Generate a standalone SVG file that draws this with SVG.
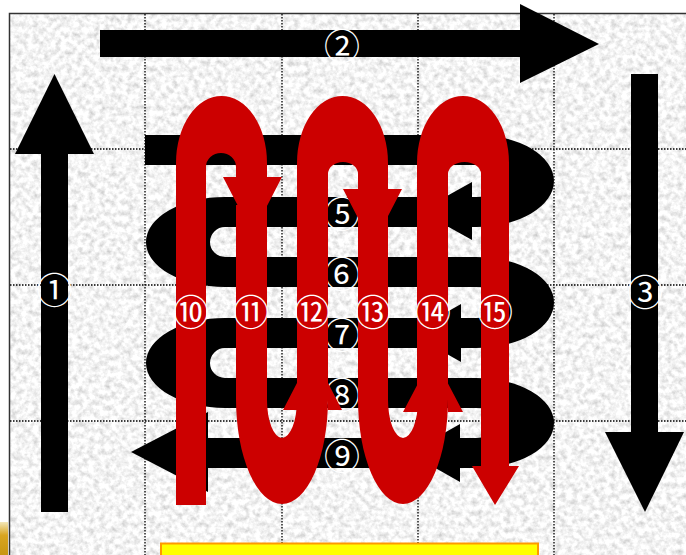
<svg xmlns="http://www.w3.org/2000/svg" width="686" height="555" viewBox="0 0 686 555">
<style>
.blk{fill:#000}
.red{fill:#cc0000}
.grid{stroke:#000;stroke-width:1.3;stroke-dasharray:1.5 1.5;fill:none}
.lbl{font-family:"Noto Sans CJK JP","Noto Sans CJK SC",sans-serif;font-size:36px;fill:#fff;text-anchor:middle;dominant-baseline:central}
</style>
<defs>
<filter id="tex" filterUnits="userSpaceOnUse" x="9" y="13" width="677" height="542">
<feTurbulence type="fractalNoise" baseFrequency="0.18" numOctaves="3" seed="7"/>
<feColorMatrix type="matrix" values="0.75 0 0 0 0.53  0.75 0 0 0 0.53  0.75 0 0 0 0.53  0 0 0 0 1"/>
</filter>
<linearGradient id="gold" x1="0" y1="0" x2="0" y2="1">
<stop offset="0" stop-color="#f3e7b8"/>
<stop offset="0.4" stop-color="#d9a520"/>
<stop offset="1" stop-color="#c89612"/>
</linearGradient>
</defs>
<rect x="0" y="0" width="686" height="555" fill="#fff"/>
<rect x="9" y="13" width="677" height="542" fill="#e6e6e6" filter="url(#tex)"/>
<rect x="0" y="522" width="8" height="33" fill="url(#gold)"/>
<path d="M9.5,555 V13.5 H686" fill="none" stroke="#333" stroke-width="1.5"/>
<g id="grid">
<path class="grid" d="M145,14 V555 M282,14 V555 M418,14 V555 M554,14 V555 M10,149 H686 M10,285 H686 M10,421 H686"/>
</g>
<g id="arrow1">
<rect class="blk" x="41" y="153" width="27" height="359"/>
<polygon class="blk" points="15,154 94,154 54.5,74"/>
<text class="lbl" x="54.5" y="288">①</text>
</g>
<g id="arrow2">
<rect class="blk" x="100" y="30" width="421" height="27"/>
<polygon class="blk" points="520,4 520,83 599,44"/>
<text class="lbl" x="342" y="44">②</text>
</g>
<g id="arrow3">
<rect class="blk" x="631" y="74" width="27" height="359"/>
<polygon class="blk" points="605,432 684,432 645,512"/>
<text class="lbl" x="645" y="290">③</text>
</g>
<g id="black-snake">
<rect class="blk" x="145" y="135" width="331" height="30"/>
<rect class="blk" x="225" y="197" width="251" height="30"/>
<rect class="blk" x="225" y="257" width="251" height="30"/>
<rect class="blk" x="225" y="318" width="251" height="30"/>
<rect class="blk" x="225" y="378" width="251" height="30"/>
<rect class="blk" x="208" y="438" width="268" height="30"/>
<path class="blk" d="M476,135 A78,46 0 0 1 476,227 V197 A30,16 0 0 0 476,165 Z"/>
<path class="blk" d="M476,257 A78,45.5 0 0 1 476,348 V318 A30,15.5 0 0 0 476,287 Z"/>
<path class="blk" d="M476,378 A78,45 0 0 1 476,468 V438 A30,15 0 0 0 476,408 Z"/>
<path class="blk" d="M225,197 A79,45 0 0 0 225,287 V257 A15,15 0 0 1 225,227 Z"/>
<path class="blk" d="M225,318 A79,45 0 0 0 225,408 V378 A15,15 0 0 1 225,348 Z"/>
<polygon class="blk" points="472,182 472,240 420,211"/>
<polygon class="blk" points="461,304 461,362 410,333"/>
<polygon class="blk" points="460,424 460,482 409,453"/>
<polygon class="blk" points="208,412 208,492 131,452"/>
<text class="lbl" x="343" y="150">④</text>
<text class="lbl" x="342" y="212">⑤</text>
<text class="lbl" x="342" y="272">⑥</text>
<text class="lbl" x="342" y="333">⑦</text>
<text class="lbl" x="342" y="393">⑧</text>
<text class="lbl" x="342" y="454">⑨</text>
</g>
<g id="red-snake">
<path class="red" d="M176,505 V163 A45.5,67 0 0 1 267,163 V177 H282 L252.5,234 L223,177 H236 V167 A15,14 0 0 0 206,167 V505 Z"/>
<path class="red" d="M236,205 V399 A46,105 0 0 0 328,399 V410 H342 L312.5,353 L283,410 H297 V400 A15,38 0 0 1 267,400 V205 Z"/>
<path class="red" d="M297,390 V163 A45.5,67 0 0 1 388,163 V189 H402 L372.5,246 L343,189 H358 V174 A15,12 0 0 0 328,174 V390 Z"/>
<path class="red" d="M358,215 V399 A45,105 0 0 0 448,399 V412 H463 L433,355 L403,412 H418 V400 A15,38 0 0 1 388,400 V215 Z"/>
<path class="red" d="M417,390 V163 A46,67 0 0 1 509,163 V466 H519 L495,505 L472,466 H481 V174 A16.5,12 0 0 0 448,174 V390 Z"/>
<text class="lbl" x="191" y="310">⑩</text>
<text class="lbl" x="251" y="310">⑪</text>
<text class="lbl" x="312" y="310">⑫</text>
<text class="lbl" x="373" y="310">⑬</text>
<text class="lbl" x="433" y="310">⑭</text>
<text class="lbl" x="495" y="310">⑮</text>
</g>
<g id="yellow-box">
<rect x="161" y="543.5" width="377" height="20" fill="#ffff00" stroke="#ff9900" stroke-width="2"/>
</g>
</svg>
